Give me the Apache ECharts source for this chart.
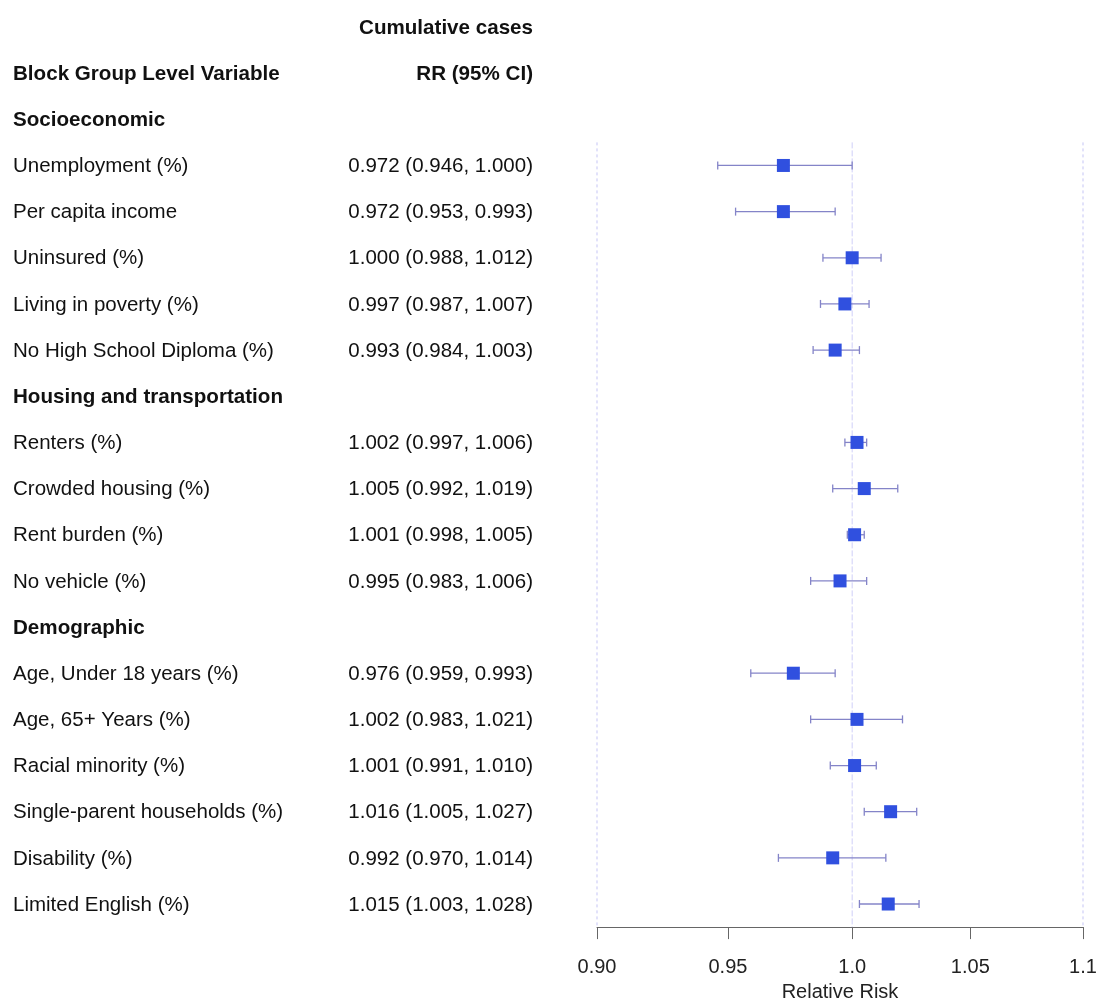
<!DOCTYPE html>
<html><head><meta charset="utf-8">
<script src="https://cdn.jsdelivr.net/npm/echarts@6/dist/echarts.min.js"></script>
<style>html,body{margin:0;padding:0;background:#fff}#c{width:1099px;height:998px}</style>
</head><body><div id="c"></div>
<script>
const groups = ['Socioeconomic', 'Housing and transportation', 'Demographic'];
const variables = ['Unemployment (%)', 'Per capita income', 'Uninsured (%)', 'Living in poverty (%)', 'No High School Diploma (%)',
  'Renters (%)', 'Crowded housing (%)', 'Rent burden (%)', 'No vehicle (%)',
  'Age, Under 18 years (%)', 'Age, 65+ Years (%)', 'Racial minority (%)', 'Single-parent households (%)', 'Disability (%)', 'Limited English (%)'];
const variableGroup = [0,0,0,0,0,1,1,1,1,2,2,2,2,2,2];
const rr    = [0.972,0.972,1.000,0.997,0.993,1.002,1.005,1.001,0.995,0.976,1.002,1.001,1.016,0.992,1.015];
const lower = [0.946,0.953,0.988,0.987,0.984,0.997,0.992,0.998,0.983,0.959,0.983,0.991,1.005,0.970,1.003];
const upper = [1.000,0.993,1.012,1.007,1.003,1.006,1.019,1.005,1.006,0.993,1.021,1.010,1.027,1.014,1.028];
const xTickValues = [0.90, 0.95, 1.0, 1.05, 1.1];
const xTickLabels = ['0.90', '0.95', '1.0', '1.05', '1.1'];
const refLines = [0.90, 1.0, 1.1];
const headerTitle = 'Cumulative cases';
const colNameHeader = 'Block Group Level Variable';
const colValueHeader = 'RR (95% CI)';
const xAxisTitle = 'Relative Risk';

// Build table rows
const rows = [];
rows.push({id: 'h1', name: '', value: headerTitle, bold: true});
rows.push({id: 'h2', name: colNameHeader, value: colValueHeader, bold: true});
const varRowIndex = [];
let lastGroup = -1;
variables.forEach((v, i) => {
  if (variableGroup[i] !== lastGroup) {
    lastGroup = variableGroup[i];
    rows.push({id: 'g' + lastGroup, name: groups[lastGroup], value: '', bold: true});
  }
  varRowIndex.push(rows.length);
  rows.push({id: 'v' + i, name: v, value: rr[i].toFixed(3) + ' (' + lower[i].toFixed(3) + ', ' + upper[i].toFixed(3) + ')', bold: false});
});
const firstVarRow = varRowIndex[0];
const L = Math.log;
const FONT = 'Liberation Sans, Arial, sans-serif';

const rich = {
  b: {fontFamily: FONT, fontSize: 20.6, fontWeight: 'bold', color: '#111', padding: [2, 0, 0, 0]},
  n: {fontFamily: FONT, fontSize: 20.5, color: '#111', padding: [2, 0, 0, 0]}
};
function fmt(field) {
  return function (val, idx) {
    const r = rows[idx];
    const t = r[field];
    if (!t) return '';
    return (r.bold ? '{b|' : '{n|') + t + '}';
  };
}
const rowIds = rows.map(r => r.id);

const chart = echarts.init(document.getElementById('c'), null, {renderer: 'canvas'});
chart.setOption({
  animation: false,
  backgroundColor: '#fff',
  grid: {left: 597, right: 16, top: 3.9, bottom: 70.9, containLabel: false, outerBoundsMode: 'none'},
  xAxis: {
    type: 'value',
    min: L(xTickValues[0]),
    max: L(xTickValues[xTickValues.length - 1]),
    splitLine: {show: false},
    axisLine: {show: true, lineStyle: {color: '#666', width: 1}},
    axisTick: {show: true, length: 12, lineStyle: {color: '#666'}, customValues: xTickValues.map(L)},
    axisLabel: {
      customValues: xTickValues.map(L),
      margin: 30,
      fontFamily: FONT, fontSize: 20, color: '#222',
      formatter: function (val) {
        for (let i = 0; i < xTickValues.length; i++) if (Math.abs(L(xTickValues[i]) - val) < 1e-9) return xTickLabels[i];
        return '';
      }
    },
    name: xAxisTitle,
    nameLocation: 'middle',
    nameGap: 51,
    nameTextStyle: {fontFamily: FONT, fontSize: 20, color: '#222'}
  },
  yAxis: [
    {
      type: 'category', inverse: true, data: rowIds, position: 'left',
      axisLine: {show: false}, axisTick: {show: false}, splitLine: {show: false},
      axisLabel: {interval: 0, align: 'left', margin: 584, formatter: fmt('name'), rich: rich}
    },
    {
      type: 'category', inverse: true, data: rowIds, position: 'left',
      axisLine: {show: false}, axisTick: {show: false}, splitLine: {show: false},
      axisLabel: {interval: 0, align: 'right', margin: 64, formatter: fmt('value'), rich: rich}
    }
  ],
  series: [
    {
      type: 'custom',
      yAxisIndex: 0,
      clip: false,
      silent: true,
      encode: {x: 0, y: 1},
      data: refLines.map(v => [L(v), firstVarRow]),
      renderItem: function (params, api) {
        const v = api.value(0);
        const p = api.coord([v, api.value(1)]);
        const band = api.size([0, 1])[1];
        const cs = params.coordSys;
        const isOne = Math.abs(v) < 1e-9;
        return {
          type: 'line',
          shape: {x1: p[0], y1: p[1] - band / 2, x2: p[0], y2: cs.y + cs.height},
          style: {stroke: isOne ? '#cfcff8' : '#c6c6f6', lineWidth: 1, lineDash: isOne ? [6, 2] : [3, 3]}
        };
      }
    },
    {
      type: 'custom',
      yAxisIndex: 0,
      clip: false,
      silent: true,
      encode: {x: [0, 1], y: 2},
      data: variables.map((v, i) => [L(lower[i]), L(upper[i]), varRowIndex[i]]),
      renderItem: function (params, api) {
        const a = api.coord([api.value(0), api.value(2)]);
        const b = api.coord([api.value(1), api.value(2)]);
        const h = 4;
        const st = {stroke: '#8484c8', lineWidth: 1.3};
        return {
          type: 'group',
          children: [
            {type: 'line', shape: {x1: a[0], y1: a[1], x2: b[0], y2: b[1]}, style: st},
            {type: 'line', shape: {x1: a[0], y1: a[1] - h, x2: a[0], y2: a[1] + h}, style: st},
            {type: 'line', shape: {x1: b[0], y1: b[1] - h, x2: b[0], y2: b[1] + h}, style: st}
          ]
        };
      }
    },
    {
      type: 'scatter',
      yAxisIndex: 0,
      symbol: 'rect',
      symbolSize: 13,
      itemStyle: {color: '#3050df', opacity: 1},
      data: variables.map((v, i) => [L(rr[i]), varRowIndex[i]]),
      z: 5
    }
  ]
});
</script>
</body></html>
